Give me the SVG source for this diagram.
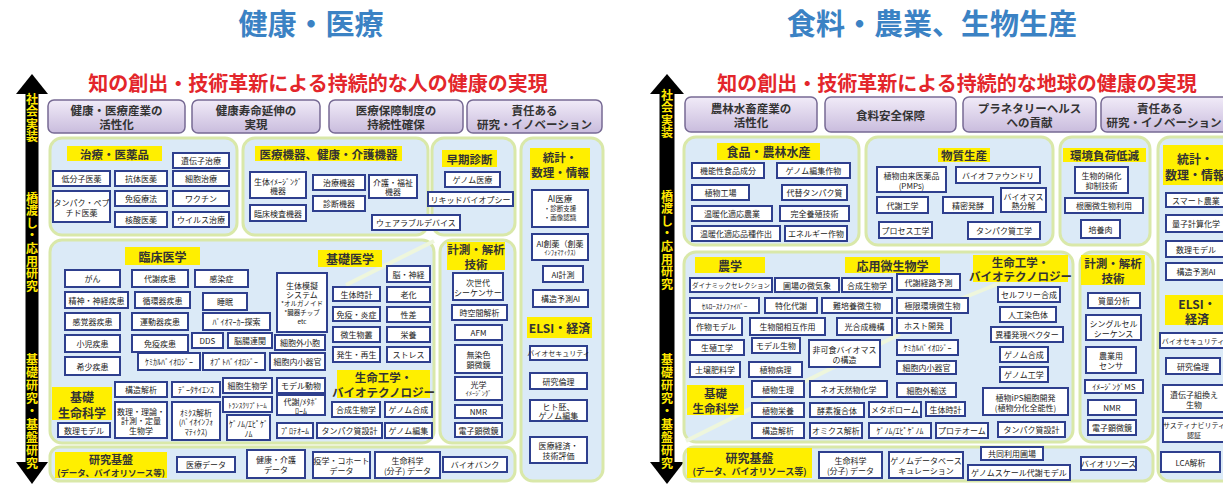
<svg xmlns="http://www.w3.org/2000/svg" width="1223" height="486" viewBox="0 0 1223 486">
<defs>
<linearGradient id="pg" x1="0" y1="0" x2="0" y2="1"><stop offset="0" stop-color="#f1ebf8"/><stop offset="1" stop-color="#c9bcdd"/></linearGradient>
<style>
text{font-family:"Noto Sans CJK JP","Noto Sans",sans-serif;}
.ttl{font-size:29px;font-weight:bold;fill:#3b82c4;text-anchor:middle}
.sub{font-size:20px;font-weight:bold;fill:#e3262b;text-anchor:middle}
.pb{fill:url(#pg);stroke:#776a94;stroke-width:1.5}
.pt{font-size:11.5px;font-weight:bold;fill:#333;text-anchor:middle;dominant-baseline:central}
.grp{fill:#dbeaf7;stroke:#d9e8a9;stroke-width:3}
.b{fill:#fff;stroke:#2e3f8e;stroke-width:2}
.t{font-size:8px;fill:#222;text-anchor:middle;dominant-baseline:central}
.s{font-size:6.5px}
.y{fill:#ffef00}
.yt{font-size:11.5px;font-weight:bold;fill:#333;text-anchor:middle;dominant-baseline:central}
.vt{font-size:12px;font-weight:bold;fill:#ffe800;writing-mode:vertical-rl;letter-spacing:0.6px}
.sep{stroke:#eef6dc;stroke-width:4;fill:none}
.arr{fill:#000}
</style>
</defs>
<rect width="1223" height="486" fill="#fff"/>

<text class="ttl" x="311" y="35">健康・医療</text>
<text class="ttl" x="932" y="35">食料・農業、生物生産</text>
<text class="sub" x="318" y="91">知の創出・技術革新による持続的な人の健康の実現</text>
<text class="sub" x="957" y="91">知の創出・技術革新による持続的な地球の健康の実現</text>

<g id="connectors">
<rect class="arr" x="25.5" y="90" width="13" height="376"/>
<polygon class="arr" points="16,94 32,74 48,94"/>
<polygon class="arr" points="16,462 32,484 48,462"/>
<rect class="arr" x="659.5" y="90" width="15" height="376"/>
<polygon class="arr" points="650,94 667,74 684,94"/>
<polygon class="arr" points="650,462 667,484 684,462"/>
</g>
<text class="vt" x="32" y="93">社会実装</text>
<text class="vt" x="32" y="192">橋渡し・応用研究</text>
<text class="vt" x="32" y="353" style="letter-spacing:1px">基礎研究・基盤研究</text>
<text class="vt" x="667" y="89">社会実装</text>
<text class="vt" x="667" y="190">橋渡し・応用研究</text>
<text class="vt" x="667" y="353" style="letter-spacing:1px">基礎研究・基盤研究</text>

<!-- Left purple goals -->
<g id="h-goal1"><rect class="pb" x="48" y="100" width="137" height="33" rx="6"/><text class="pt" x="116.5" y="109.5"><tspan x="116.5">健康・医療産業の</tspan><tspan x="116.5" dy="14.5">活性化</tspan></text></g>
<g id="h-goal2"><rect class="pb" x="192" y="100" width="128" height="33" rx="6"/><text class="pt" x="256" y="109.5"><tspan x="256">健康寿命延伸の</tspan><tspan x="256" dy="14.5">実現</tspan></text></g>
<g id="h-goal3"><rect class="pb" x="329" y="100" width="134" height="33" rx="6"/><text class="pt" x="396" y="109.5"><tspan x="396">医療保障制度の</tspan><tspan x="396" dy="14.5">持続性確保</tspan></text></g>
<g id="h-goal4"><rect class="pb" x="467" y="100" width="135" height="33" rx="6"/><text class="pt" x="534.5" y="109.5"><tspan x="534.5">責任ある</tspan><tspan x="534.5" dy="14.5">研究・イノベーション</tspan></text></g>

<!-- Left groups -->
<rect class="grp" x="50" y="138" width="187" height="97" rx="12"/>
<rect class="grp" x="243" y="138" width="185" height="97" rx="12"/>
<rect class="grp" x="432" y="138" width="83" height="97" rx="12"/>
<rect class="grp" x="521" y="138" width="82" height="343" rx="12"/>
<rect class="grp" x="50" y="240" width="384" height="203" rx="12"/>
<rect class="grp" x="440" y="240" width="75" height="203" rx="12"/>
<rect class="grp" x="50" y="447" width="465" height="34" rx="10"/>
<line class="sep" x1="434" y1="241" x2="346" y2="285"/>

<g id="h-therapy">
<rect class="y" x="67" y="146" width="95" height="15"/><text class="yt" x="114.5" y="153.5">治療・医薬品</text>
<g id="h-b1"><rect class="b" x="173" y="153" width="56" height="15"/><text class="t" x="201" y="160.5">遺伝子治療</text></g>
<g id="h-b2"><rect class="b" x="53" y="171" width="57" height="15"/><text class="t" x="81.5" y="178.5">低分子医薬</text></g>
<g id="h-b3"><rect class="b" x="115" y="171" width="52" height="15"/><text class="t" x="141" y="178.5">抗体医薬</text></g>
<g id="h-b4"><rect class="b" x="173" y="171" width="56" height="15"/><text class="t" x="201" y="178.5">細胞治療</text></g>
<g id="h-b5"><rect class="b" x="53" y="191" width="57" height="31"/><text class="t" x="81.5" y="201.5"><tspan x="81.5">タンパク・ペプ</tspan><tspan x="81.5" dy="10">チド医薬</tspan></text></g>
<g id="h-b6"><rect class="b" x="115" y="191" width="52" height="15"/><text class="t" x="141" y="198.5">免疫療法</text></g>
<g id="h-b7"><rect class="b" x="173" y="191" width="56" height="15"/><text class="t" x="201" y="198.5">ワクチン</text></g>
<g id="h-b8"><rect class="b" x="115" y="212" width="52" height="15"/><text class="t" x="141" y="219.5">核酸医薬</text></g>
<g id="h-b9"><rect class="b" x="173" y="212" width="56" height="15"/><text class="t" x="201" y="219.5">ウイルス治療</text></g>
</g>

<g id="h-devices">
<rect class="y" x="255" y="146" width="147" height="15"/><text class="yt" x="328.5" y="153.5">医療機器、健康・介護機器</text>
<g id="h-d1"><rect class="b" x="250" y="172" width="56" height="26"/><text class="t" x="278" y="180.5"><tspan x="278">生体ｲﾒｰｼﾞﾝｸﾞ</tspan><tspan x="278" dy="9">機器</tspan></text></g>
<g id="h-d2"><rect class="b" x="313" y="175" width="52" height="15"/><text class="t" x="339" y="182.5">治療機器</text></g>
<g id="h-d3"><rect class="b" x="369" y="175" width="48" height="23"/><text class="t" x="393" y="182"><tspan x="393">介護・福祉</tspan><tspan x="393" dy="9">機器</tspan></text></g>
<g id="h-d4"><rect class="b" x="313" y="196" width="52" height="15"/><text class="t" x="339" y="203.5">診断機器</text></g>
<g id="h-d5"><rect class="b" x="250" y="205" width="56" height="16"/><text class="t" x="278" y="213">臨床検査機器</text></g>
<g id="h-d6"><rect class="b" x="372" y="215" width="88" height="15"/><text class="t" x="416" y="222.5">ウェアラブルデバイス</text></g>
</g>

<g id="h-early">
<rect class="y" x="442" y="150" width="55" height="17"/><text class="yt" x="469.5" y="158.5">早期診断</text>
<g id="h-e1"><rect class="b" x="445" y="172" width="55" height="15"/><text class="t" x="472.5" y="179.5">ゲノム医療</text></g>
<g id="h-e2"><rect class="b" x="428" y="192" width="85" height="14"/><text class="t" x="470.5" y="199">リキッドバイオプシー</text></g>
</g>

<g id="h-stats">
<rect class="y" x="530" y="148" width="60" height="32"/><text class="yt" x="560" y="157"><tspan x="560">統計・</tspan><tspan x="560" dy="14.5">数理・情報</tspan></text>
<g id="h-s1"><rect class="b" x="532" y="190" width="56" height="37"/><text class="t" x="560" y="198"><tspan x="560" style="font-size:8.5px">AI医療</tspan><tspan x="560" dy="10" class="s">・診断支援</tspan><tspan x="560" dy="8.5" class="s">・画像認識</tspan></text></g>
<g id="h-s2"><rect class="b" x="532" y="234" width="56" height="26"/><text class="t" x="560" y="242.5"><tspan x="560">AI創薬（創薬</tspan><tspan x="560" dy="9.5" class="s">ｲﾝﾌｫﾏﾃｨｸｽ)</tspan></text></g>
<g id="h-s3"><rect class="b" x="543" y="266" width="40" height="16"/><text class="t" x="563" y="274">AI計測</text></g>
<g id="h-s4"><rect class="b" x="533" y="290" width="55" height="17"/><text class="t" x="560.5" y="298.5">構造予測AI</text></g>
<rect class="y" x="527" y="317" width="65" height="21"/><text class="yt" x="559.5" y="327.5" style="font-size:12px">ELSI・経済</text>
<g id="h-s5"><rect class="b" x="530" y="346" width="57" height="14"/><text class="t" x="558.5" y="353" style="font-size:7px">バイオセキュリティ</text></g>
<g id="h-s6"><rect class="b" x="530" y="373" width="57" height="16"/><text class="t" x="558.5" y="381">研究倫理</text></g>
<g id="h-s7"><rect class="b" x="530" y="400" width="57" height="21"/><text class="t" x="558.5" y="406"><tspan x="558.5">ヒト胚、</tspan><tspan x="558.5" dy="9">ゲノム編集</tspan></text></g>
<g id="h-s8"><rect class="b" x="530" y="437" width="57" height="26"/><text class="t" x="558.5" y="445"><tspan x="558.5">医療経済・</tspan><tspan x="558.5" dy="10">技術評価</tspan></text></g>
</g>

<g id="h-clinical">
<rect class="y" x="125" y="247" width="75" height="18"/><text class="yt" x="162.5" y="256" style="font-size:12px">臨床医学</text>
<g id="h-c1"><rect class="b" x="65" y="270" width="55" height="17"/><text class="t" x="92.5" y="278.5">がん</text></g>
<g id="h-c2"><rect class="b" x="132" y="270" width="56" height="17"/><text class="t" x="160" y="278.5">代謝疾患</text></g>
<g id="h-c3"><rect class="b" x="195" y="270" width="53" height="17"/><text class="t" x="221.5" y="278.5">感染症</text></g>
<g id="h-c4"><rect class="b" x="65" y="292" width="63" height="16"/><text class="t" x="96.5" y="300">精神・神経疾患</text></g>
<g id="h-c5"><rect class="b" x="135" y="292" width="55" height="16"/><text class="t" x="162.5" y="300">循環器疾患</text></g>
<g id="h-c6"><rect class="b" x="203" y="293" width="44" height="17"/><text class="t" x="225" y="301.5">睡眠</text></g>
<g id="h-c7"><rect class="b" x="65" y="313" width="55" height="17"/><text class="t" x="92.5" y="321.5">感覚器疾患</text></g>
<g id="h-c8"><rect class="b" x="132" y="313" width="56" height="17"/><text class="t" x="160" y="321.5">運動器疾患</text></g>
<g id="h-c9"><rect class="b" x="203" y="313" width="67" height="17"/><text class="t" x="236.5" y="321.5">ﾊﾞｲｵﾏｰｶｰ探索</text></g>
<g id="h-c10"><rect class="b" x="277" y="273" width="50" height="59"/><text class="t" x="302" y="284.5"><tspan x="302">生体模擬</tspan><tspan x="302" dy="9.5">システム</tspan><tspan x="302" dy="9" class="s">*オルガノイド</tspan><tspan x="302" dy="9" class="s">*臓器チップ</tspan><tspan x="302" dy="9" class="s">etc</tspan></text></g>
<g id="h-c11"><rect class="b" x="65" y="335" width="55" height="17"/><text class="t" x="92.5" y="343.5">小児疾患</text></g>
<g id="h-c12"><rect class="b" x="132" y="335" width="56" height="17"/><text class="t" x="160" y="343.5">免疫疾患</text></g>
<g id="h-c13"><rect class="b" x="192" y="333" width="31" height="15"/><text class="t" x="207.5" y="340.5">DDS</text></g>
<g id="h-c14"><rect class="b" x="228" y="333" width="44" height="15"/><text class="t" x="250" y="340.5">脳腸連関</text></g>
<g id="h-c15"><rect class="b" x="275" y="335" width="50" height="15"/><text class="t" x="300" y="342.5">細胞外小胞</text></g>
<g id="h-c16"><rect class="b" x="65" y="357" width="55" height="18"/><text class="t" x="92.5" y="366">希少疾患</text></g>
<g id="h-c17"><rect class="b" x="138" y="353" width="62" height="17"/><text class="t" x="169" y="361.5">ｹﾐｶﾙﾊﾞｲｵﾛｼﾞｰ</text></g>
<g id="h-c18"><rect class="b" x="203" y="353" width="62" height="17"/><text class="t" x="234" y="361.5">ｵﾌﾟﾄﾊﾞｲｵﾛｼﾞｰ</text></g>
<g id="h-c19"><rect class="b" x="270" y="353" width="55" height="17"/><text class="t" x="297.5" y="361.5">細胞内小器官</text></g>
</g>

<g id="h-basicmed">
<rect class="y" x="318" y="250" width="64" height="17"/><text class="yt" x="350" y="258.5" style="font-size:12px">基礎医学</text>
<g id="h-m1"><rect class="b" x="387" y="266" width="43" height="16"/><text class="t" x="408.5" y="274">脳・神経</text></g>
<g id="h-m2"><rect class="b" x="333" y="287" width="47" height="14"/><text class="t" x="356.5" y="294">生体時計</text></g>
<g id="h-m3"><rect class="b" x="387" y="287" width="43" height="15"/><text class="t" x="408.5" y="294.5">老化</text></g>
<g id="h-m4"><rect class="b" x="333" y="307" width="47" height="14"/><text class="t" x="356.5" y="314">免疫・炎症</text></g>
<g id="h-m5"><rect class="b" x="387" y="307" width="43" height="15"/><text class="t" x="408.5" y="314.5">性差</text></g>
<g id="h-m6"><rect class="b" x="333" y="327" width="47" height="15"/><text class="t" x="356.5" y="334.5">微生物叢</text></g>
<g id="h-m7"><rect class="b" x="387" y="327" width="43" height="15"/><text class="t" x="408.5" y="334.5">栄養</text></g>
<g id="h-m8"><rect class="b" x="333" y="347" width="47" height="15"/><text class="t" x="356.5" y="354.5">発生・再生</text></g>
<g id="h-m9"><rect class="b" x="387" y="347" width="43" height="15"/><text class="t" x="408.5" y="354.5">ストレス</text></g>
</g>

<g id="h-basiclife">
<rect class="y" x="52" y="387" width="60" height="33"/><text class="yt" x="82" y="395.5" style="font-size:12px"><tspan x="82">基礎</tspan><tspan x="82" dy="16">生命科学</tspan></text>
<g id="h-l1"><rect class="b" x="58" y="423" width="52" height="14"/><text class="t" x="84" y="430">数理モデル</text></g>
<g id="h-l2"><rect class="b" x="115" y="382" width="52" height="15"/><text class="t" x="141" y="389.5">構造解析</text></g>
<g id="h-l3"><rect class="b" x="172" y="382" width="48" height="15"/><text class="t" x="196" y="389.5">ﾃﾞｰﾀｻｲｴﾝｽ</text></g>
<g id="h-l4"><rect class="b" x="115" y="402" width="52" height="36"/><text class="t" x="141" y="410.5"><tspan x="141">数理・理論・</tspan><tspan x="141" dy="9.5">計測・定量</tspan><tspan x="141" dy="9.5">生物学</tspan></text></g>
<g id="h-l5"><rect class="b" x="172" y="402" width="48" height="38"/><text class="t" x="196" y="411.5"><tspan x="196">ｵﾐｸｽ解析</tspan><tspan x="196" dy="9.5">(ﾊﾞｲｵｲﾝﾌｫ</tspan><tspan x="196" dy="9.5">ﾏﾃｨｸｽ)</tspan></text></g>
<g id="h-l6"><rect class="b" x="223" y="378" width="49" height="15"/><text class="t" x="247.5" y="385.5">細胞生物学</text></g>
<g id="h-l7"><rect class="b" x="277" y="378" width="48" height="15"/><text class="t" x="301" y="385.5">モデル動物</text></g>
<g id="h-l8"><rect class="b" x="223" y="397" width="49" height="15"/><text class="t" x="247.5" y="404.5" style="font-size:7px">ﾄﾗﾝｽｸﾘﾌﾟﾄｰﾑ</text></g>
<g id="h-l9"><rect class="b" x="277" y="395" width="48" height="20"/><text class="t" x="301" y="400.5"><tspan x="301">代謝/ﾒﾀﾎﾞ</tspan><tspan x="301" dy="9">ﾛｰﾑ</tspan></text></g>
<g id="h-l10"><rect class="b" x="227" y="415" width="43" height="25"/><text class="t" x="248.5" y="423"><tspan x="248.5">ｹﾞﾉﾑ/ｴﾋﾟｹﾞ</tspan><tspan x="248.5" dy="9.5">ﾉﾑ</tspan></text></g>
<g id="h-l11"><rect class="b" x="277" y="423" width="36" height="15"/><text class="t" x="295" y="430.5">ﾌﾟﾛﾃｵｰﾑ</text></g>
</g>

<g id="h-biotech">
<rect class="y" x="337" y="370" width="93" height="28"/><text class="yt" x="383.5" y="377"><tspan x="383.5">生命工学・</tspan><tspan x="383.5" dy="14.5">バイオテクノロジー</tspan></text>
<g id="h-t1"><rect class="b" x="332" y="402" width="48" height="15"/><text class="t" x="356" y="409.5">合成生物学</text></g>
<g id="h-t2"><rect class="b" x="385" y="402" width="47" height="15"/><text class="t" x="408.5" y="409.5">ゲノム合成</text></g>
<g id="h-t3"><rect class="b" x="317" y="423" width="65" height="15"/><text class="t" x="349.5" y="430.5">タンパク質設計</text></g>
<g id="h-t4"><rect class="b" x="385" y="423" width="47" height="15"/><text class="t" x="408.5" y="430.5">ゲノム編集</text></g>
</g>

<g id="h-measure">
<rect class="y" x="447" y="242" width="58" height="28"/><text class="yt" x="476" y="249"><tspan x="476">計測・解析</tspan><tspan x="476" dy="14.5">技術</tspan></text>
<g id="h-x1"><rect class="b" x="453" y="273" width="50" height="27"/><text class="t" x="478" y="281.5"><tspan x="478">次世代</tspan><tspan x="478" dy="10">シーケンサー</tspan></text></g>
<g id="h-x2"><rect class="b" x="452" y="305" width="55" height="15"/><text class="t" x="479.5" y="312.5">時空間解析</text></g>
<g id="h-x3"><rect class="b" x="455" y="325" width="47" height="15"/><text class="t" x="478.5" y="332.5">AFM</text></g>
<g id="h-x4"><rect class="b" x="455" y="345" width="47" height="28"/><text class="t" x="478.5" y="354"><tspan x="478.5">無染色</tspan><tspan x="478.5" dy="10">顕微鏡</tspan></text></g>
<g id="h-x5"><rect class="b" x="455" y="377" width="47" height="23"/><text class="t" x="478.5" y="383.5"><tspan x="478.5">光学</tspan><tspan x="478.5" dy="9.5" class="s">ｲﾒｰｼﾞﾝｸﾞ</tspan></text></g>
<g id="h-x6"><rect class="b" x="455" y="405" width="47" height="13"/><text class="t" x="478.5" y="411.5">NMR</text></g>
<g id="h-x7"><rect class="b" x="455" y="423" width="47" height="14"/><text class="t" x="478.5" y="430">電子顕微鏡</text></g>
</g>

<g id="h-infra">
<rect class="y" x="55" y="452" width="112" height="26"/><text class="yt" x="111" y="458.5" style="font-size:11px"><tspan x="111">研究基盤</tspan><tspan x="111" dy="13" style="font-size:8.5px">(データ、バイオリソース等)</tspan></text>
<g id="h-i1"><rect class="b" x="177" y="457" width="58" height="15"/><text class="t" x="206" y="464.5">医療データ</text></g>
<g id="h-i2"><rect class="b" x="247" y="450" width="58" height="28"/><text class="t" x="276" y="459"><tspan x="276">健康・介護</tspan><tspan x="276" dy="10">データ</tspan></text></g>
<g id="h-i3"><rect class="b" x="313" y="452" width="57" height="26"/><text class="t" x="341.5" y="460"><tspan x="341.5">疫学・コホート</tspan><tspan x="341.5" dy="10">データ</tspan></text></g>
<g id="h-i4"><rect class="b" x="375" y="452" width="65" height="26"/><text class="t" x="407.5" y="460"><tspan x="407.5">生命科学</tspan><tspan x="407.5" dy="10">(分子) データ</tspan></text></g>
<g id="h-i5"><rect class="b" x="443" y="457" width="64" height="15"/><text class="t" x="475" y="464.5">バイオバンク</text></g>
</g>

<!-- Right purple goals -->
<g id="f-goal1"><rect class="pb" x="685" y="97" width="132" height="35" rx="6"/><text class="pt" x="751" y="107.5"><tspan x="751">農林水畜産業の</tspan><tspan x="751" dy="14.5">活性化</tspan></text></g>
<g id="f-goal2"><rect class="pb" x="825" y="97" width="131" height="35" rx="6"/><text class="pt" x="890.5" y="114.5">食料安全保障</text></g>
<g id="f-goal3"><rect class="pb" x="963" y="97" width="133" height="35" rx="6"/><text class="pt" x="1029.5" y="107.5"><tspan x="1029.5">プラネタリーヘルス</tspan><tspan x="1029.5" dy="14.5">への貢献</tspan></text></g>
<g id="f-goal4"><rect class="pb" x="1101" y="97" width="134" height="35" rx="6"/><text class="pt" x="1162" y="107.5"><tspan x="1160">責任ある</tspan><tspan x="1164" dy="14.5">研究・イノベーション</tspan></text></g>

<!-- Right groups -->
<rect class="grp" x="684" y="137" width="175" height="108" rx="12"/>
<rect class="grp" x="866" y="137" width="187" height="108" rx="12"/>
<rect class="grp" x="1060" y="137" width="90" height="108" rx="12"/>
<rect class="grp" x="1158" y="137" width="80" height="344" rx="12"/>
<rect class="grp" x="684" y="252" width="389" height="190" rx="12"/>
<rect class="grp" x="1080" y="252" width="73" height="190" rx="12"/>
<rect class="grp" x="684" y="447" width="469" height="34" rx="10"/>
<line class="sep" x1="1000" y1="283" x2="958" y2="300"/>
<line class="sep" x1="900" y1="334" x2="686" y2="441"/>

<g id="f-food">
<rect class="y" x="717" y="143" width="103" height="17"/><text class="yt" x="768.5" y="151.5" style="font-size:12px">食品・農林水産</text>
<g id="f-a1"><rect class="b" x="692" y="163" width="72" height="15"/><text class="t" x="728" y="170.5">機能性食品成分</text></g>
<g id="f-a2"><rect class="b" x="777" y="163" width="73" height="15"/><text class="t" x="813.5" y="170.5">ゲノム編集作物</text></g>
<g id="f-a3"><rect class="b" x="692" y="185" width="57" height="15"/><text class="t" x="720.5" y="192.5">植物工場</text></g>
<g id="f-a4"><rect class="b" x="782" y="185" width="65" height="15"/><text class="t" x="814.5" y="192.5">代替タンパク質</text></g>
<g id="f-a5"><rect class="b" x="692" y="206" width="80" height="15"/><text class="t" x="732" y="213.5">温暖化適応農業</text></g>
<g id="f-a6"><rect class="b" x="780" y="206" width="69" height="15"/><text class="t" x="814.5" y="213.5">完全養殖技術</text></g>
<g id="f-a7"><rect class="b" x="692" y="226" width="88" height="15"/><text class="t" x="736" y="233.5">温暖化適応品種作出</text></g>
<g id="f-a8"><rect class="b" x="785" y="226" width="62" height="15"/><text class="t" x="816" y="233.5">エネルギー作物</text></g>
</g>

<g id="f-material">
<rect class="y" x="938" y="148" width="52" height="14"/><text class="yt" x="964" y="155">物質生産</text>
<g id="f-p1"><rect class="b" x="877" y="167" width="69" height="25"/><text class="t" x="911.5" y="174.5"><tspan x="911.5">植物由来医薬品</tspan><tspan x="911.5" dy="10">(PMPs)</tspan></text></g>
<g id="f-p2"><rect class="b" x="956" y="167" width="84" height="16"/><text class="t" x="998" y="175">バイオファウンドリ</text></g>
<g id="f-p3"><rect class="b" x="877" y="197" width="51" height="16"/><text class="t" x="902.5" y="205">代謝工学</text></g>
<g id="f-p4"><rect class="b" x="943" y="197" width="50" height="16"/><text class="t" x="968" y="205">精密発酵</text></g>
<g id="f-p5"><rect class="b" x="1001" y="188" width="45" height="24"/><text class="t" x="1023.5" y="195.5"><tspan x="1023.5">バイオマス</tspan><tspan x="1023.5" dy="9.5">熱分解</tspan></text></g>
<g id="f-p6"><rect class="b" x="879" y="222" width="53" height="16"/><text class="t" x="905.5" y="230">プロセス工学</text></g>
<g id="f-p7"><rect class="b" x="968" y="222" width="72" height="17"/><text class="t" x="1004" y="230.5">タンパク質工学</text></g>
</g>

<g id="f-env">
<rect class="y" x="1063" y="148" width="83" height="14"/><text class="yt" x="1104.5" y="155">環境負荷低減</text>
<g id="f-v1"><rect class="b" x="1075" y="167" width="53" height="26"/><text class="t" x="1101.5" y="175"><tspan x="1101.5">生物的硝化</tspan><tspan x="1101.5" dy="10">抑制技術</tspan></text></g>
<g id="f-v2"><rect class="b" x="1065" y="198" width="78" height="15"/><text class="t" x="1104" y="205.5">根圏微生物利用</text></g>
<g id="f-v3"><rect class="b" x="1081" y="220" width="39" height="18"/><text class="t" x="1100.5" y="229">培養肉</text></g>
</g>

<g id="f-stats">
<rect class="y" x="1163" y="145" width="66" height="40"/><text class="yt" x="1195" y="157.5" style="font-size:12px"><tspan x="1195">統計・</tspan><tspan x="1195" dy="16">数理・情報</tspan></text>
<g id="f-s1"><rect class="b" x="1166" y="193" width="60" height="14"/><text class="t" x="1196" y="200">スマート農業</text></g>
<g id="f-s2"><rect class="b" x="1166" y="215" width="60" height="17"/><text class="t" x="1196" y="223.5">量子計算化学</text></g>
<g id="f-s3"><rect class="b" x="1166" y="241" width="60" height="16"/><text class="t" x="1196" y="249">数理モデル</text></g>
<g id="f-s4"><rect class="b" x="1166" y="263" width="60" height="17"/><text class="t" x="1196" y="271.5">構造予測AI</text></g>
<rect class="y" x="1165" y="295" width="64" height="30"/><text class="yt" x="1197" y="302.5" style="font-size:12px"><tspan x="1197">ELSI・</tspan><tspan x="1197" dy="15.5">経済</tspan></text>
<g id="f-s5"><rect class="b" x="1160" y="333" width="66" height="15"/><text class="t" x="1193" y="340.5" style="font-size:7px">バイオセキュリティ</text></g>
<g id="f-s6"><rect class="b" x="1166" y="358" width="54" height="16"/><text class="t" x="1193" y="366">研究倫理</text></g>
<g id="f-s7"><rect class="b" x="1163" y="385" width="62" height="27"/><text class="t" x="1194" y="393.5"><tspan x="1194">遺伝子組換え</tspan><tspan x="1194" dy="10">生物</tspan></text></g>
<g id="f-s8"><rect class="b" x="1163" y="418" width="62" height="24"/><text class="t" x="1194" y="425" style="font-size:7px"><tspan x="1194">サスティナビリティ</tspan><tspan x="1194" dy="10">認証</tspan></text></g>
<g id="f-s9"><rect class="b" x="1161" y="452" width="59" height="20"/><text class="t" x="1190.5" y="462">LCA解析</text></g>
</g>

<g id="f-agri">
<rect class="y" x="695" y="257" width="70" height="16"/><text class="yt" x="730" y="265" style="font-size:12px">農学</text>
<rect class="y" x="845" y="257" width="95" height="16"/><text class="yt" x="892.5" y="265" style="font-size:12px">応用微生物学</text>
<g id="f-g1"><rect class="b" x="690" y="278" width="82" height="14"/><text class="t" x="731" y="285" style="font-size:6.5px">ダイナミックセレクション</text></g>
<g id="f-g2"><rect class="b" x="775" y="278" width="64" height="14"/><text class="t" x="807" y="285">圃場の微気象</text></g>
<g id="f-g3"><rect class="b" x="842" y="278" width="50" height="14"/><text class="t" x="867" y="285">合成生物学</text></g>
<g id="f-g4"><rect class="b" x="897" y="274" width="63" height="16"/><text class="t" x="928.5" y="282">代謝経路予測</text></g>
<g id="f-g5"><rect class="b" x="690" y="298" width="69" height="15"/><text class="t" x="724.5" y="305.5" style="font-size:7px">ｾﾙﾛｰｽﾅﾉﾌｧｲﾊﾞｰ</text></g>
<g id="f-g6"><rect class="b" x="765" y="298" width="52" height="15"/><text class="t" x="791" y="305.5">特化代謝</text></g>
<g id="f-g7"><rect class="b" x="822" y="298" width="70" height="15"/><text class="t" x="857" y="305.5">難培養微生物</text></g>
<g id="f-g8"><rect class="b" x="897" y="298" width="71" height="15"/><text class="t" x="932.5" y="305.5">極限環境微生物</text></g>
<g id="f-g9"><rect class="b" x="690" y="318" width="52" height="17"/><text class="t" x="716" y="326.5">作物モデル</text></g>
<g id="f-g10"><rect class="b" x="750" y="318" width="75" height="17"/><text class="t" x="787.5" y="326.5">生物間相互作用</text></g>
<g id="f-g11"><rect class="b" x="837" y="318" width="55" height="17"/><text class="t" x="864.5" y="326.5">光合成機構</text></g>
<g id="f-g12"><rect class="b" x="897" y="318" width="54" height="15"/><text class="t" x="924" y="325.5">ホスト開発</text></g>
<g id="f-g13"><rect class="b" x="690" y="340" width="54" height="15"/><text class="t" x="717" y="347.5">生殖工学</text></g>
<g id="f-g14"><rect class="b" x="752" y="338" width="48" height="15"/><text class="t" x="776" y="345.5">モデル生物</text></g>
<g id="f-g15"><rect class="b" x="809" y="340" width="71" height="27"/><text class="t" x="844.5" y="348.5"><tspan x="844.5">非可食バイオマス</tspan><tspan x="844.5" dy="10">の構造</tspan></text></g>
<g id="f-g16"><rect class="b" x="897" y="340" width="61" height="15"/><text class="t" x="927.5" y="347.5">ｹﾐｶﾙﾊﾞｲｵﾛｼﾞｰ</text></g>
<g id="f-g17"><rect class="b" x="690" y="362" width="50" height="15"/><text class="t" x="715" y="369.5">土壌肥料学</text></g>
<g id="f-g18"><rect class="b" x="749" y="362" width="53" height="15"/><text class="t" x="775.5" y="369.5">植物病理</text></g>
<g id="f-g19"><rect class="b" x="897" y="361" width="59" height="13"/><text class="t" x="926.5" y="367.5">細胞内小器官</text></g>
<g id="f-g20"><rect class="b" x="897" y="383" width="59" height="14"/><text class="t" x="926.5" y="390">細胞外輸送</text></g>
</g>

<g id="f-biotech">
<rect class="y" x="973" y="255" width="95" height="27"/><text class="yt" x="1020.5" y="261.5"><tspan x="1020.5">生命工学・</tspan><tspan x="1020.5" dy="14.5">バイオテクノロジー</tspan></text>
<g id="f-t1"><rect class="b" x="998" y="287" width="62" height="15"/><text class="t" x="1029" y="294.5">セルフリー合成</text></g>
<g id="f-t2"><rect class="b" x="1000" y="307" width="56" height="15"/><text class="t" x="1028" y="314.5">人工染色体</text></g>
<g id="f-t3"><rect class="b" x="991" y="327" width="72" height="15"/><text class="t" x="1027" y="334.5">異種発現ベクター</text></g>
<g id="f-t4"><rect class="b" x="1000" y="347" width="48" height="15"/><text class="t" x="1024" y="354.5">ゲノム合成</text></g>
<g id="f-t5"><rect class="b" x="1000" y="367" width="48" height="15"/><text class="t" x="1024" y="374.5">ゲノム工学</text></g>
<g id="f-t6"><rect class="b" x="983" y="388" width="85" height="27"/><text class="t" x="1025.5" y="396.5"><tspan x="1025.5">植物iPS細胞開発</tspan><tspan x="1025.5" dy="10">(植物分化全能性)</tspan></text></g>
<g id="f-t7"><rect class="b" x="998" y="422" width="67" height="15"/><text class="t" x="1031.5" y="429.5">タンパク質設計</text></g>
</g>

<g id="f-basiclife">
<rect class="y" x="687" y="385" width="57" height="30"/><text class="yt" x="715.5" y="392.5"><tspan x="715.5">基礎</tspan><tspan x="715.5" dy="15">生命科学</tspan></text>
<g id="f-l1"><rect class="b" x="752" y="381" width="52" height="16"/><text class="t" x="778" y="389">植物生理</text></g>
<g id="f-l2"><rect class="b" x="810" y="381" width="77" height="16"/><text class="t" x="848.5" y="389">ネオ天然物化学</text></g>
<g id="f-l3"><rect class="b" x="752" y="403" width="52" height="14"/><text class="t" x="778" y="410">植物栄養</text></g>
<g id="f-l4"><rect class="b" x="810" y="403" width="54" height="14"/><text class="t" x="837" y="410">酵素複合体</text></g>
<g id="f-l5"><rect class="b" x="869" y="402" width="52" height="15"/><text class="t" x="895" y="409.5">メタボローム</text></g>
<g id="f-l6"><rect class="b" x="926" y="402" width="39" height="14"/><text class="t" x="945.5" y="409">生体時計</text></g>
<g id="f-l7"><rect class="b" x="752" y="423" width="52" height="15"/><text class="t" x="778" y="430.5">構造解析</text></g>
<g id="f-l8"><rect class="b" x="810" y="423" width="52" height="15"/><text class="t" x="836" y="430.5">オミクス解析</text></g>
<g id="f-l9"><rect class="b" x="869" y="423" width="62" height="15"/><text class="t" x="900" y="430.5">ｹﾞﾉﾑ/ｴﾋﾟｹﾞﾉﾑ</text></g>
<g id="f-l10"><rect class="b" x="936" y="423" width="52" height="15"/><text class="t" x="962" y="430.5">プロテオーム</text></g>
</g>

<g id="f-measure">
<rect class="y" x="1081" y="255" width="64" height="30"/><text class="yt" x="1113" y="262.5"><tspan x="1113">計測・解析</tspan><tspan x="1113" dy="15">技術</tspan></text>
<g id="f-x1"><rect class="b" x="1088" y="293" width="52" height="15"/><text class="t" x="1114" y="300.5">質量分析</text></g>
<g id="f-x2"><rect class="b" x="1086" y="315" width="55" height="25"/><text class="t" x="1113.5" y="322.5"><tspan x="1113.5">シングルセル</tspan><tspan x="1113.5" dy="10">シーケンス</tspan></text></g>
<g id="f-x3"><rect class="b" x="1086" y="347" width="50" height="26"/><text class="t" x="1111" y="355"><tspan x="1111">農業用</tspan><tspan x="1111" dy="10">センサ</tspan></text></g>
<g id="f-x4"><rect class="b" x="1085" y="380" width="58" height="13"/><text class="t" x="1114" y="386.5">ｲﾒｰｼﾞﾝｸﾞMS</text></g>
<g id="f-x5"><rect class="b" x="1088" y="400" width="48" height="15"/><text class="t" x="1112" y="407.5">NMR</text></g>
<g id="f-x6"><rect class="b" x="1088" y="420" width="48" height="15"/><text class="t" x="1112" y="427.5">電子顕微鏡</text></g>
</g>

<g id="f-infra">
<rect class="y" x="687" y="448" width="125" height="30"/><text class="yt" x="749.5" y="456.5" style="font-size:12px"><tspan x="749.5">研究基盤</tspan><tspan x="749.5" dy="14.5" style="font-size:9px">(データ、バイオリソース等)</tspan></text>
<g id="f-i1"><rect class="b" x="819" y="452" width="63" height="26"/><text class="t" x="850.5" y="460"><tspan x="850.5">生命科学</tspan><tspan x="850.5" dy="10">(分子) データ</tspan></text></g>
<g id="f-i2"><rect class="b" x="889" y="452" width="74" height="26"/><text class="t" x="926" y="460"><tspan x="926">ゲノムデータベース</tspan><tspan x="926" dy="10">キュレーション</tspan></text></g>
<g id="f-i3"><rect class="b" x="981" y="447" width="62" height="13"/><text class="t" x="1012" y="453.5">共同利用圃場</text></g>
<g id="f-i4"><rect class="b" x="968" y="465" width="102" height="15"/><text class="t" x="1019" y="472.5">ゲノムスケール代謝モデル</text></g>
<g id="f-i5"><rect class="b" x="1081" y="457" width="55" height="13"/><text class="t" x="1108.5" y="463.5">バイオリソース</text></g>
</g>
</svg>
